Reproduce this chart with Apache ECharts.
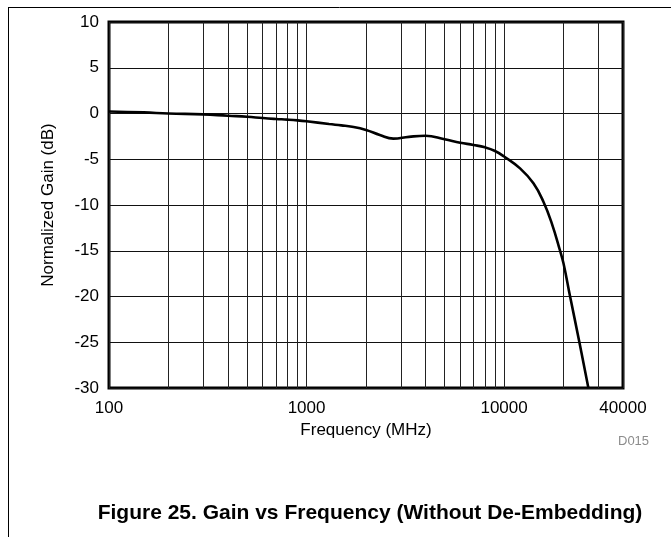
<!DOCTYPE html>
<html>
<head>
<meta charset="utf-8">
<script src="https://cdn.jsdelivr.net/npm/echarts@6/dist/echarts.min.js"></script>
<style>
html,body{margin:0;padding:0;background:#fff;}
#chart{width:671px;height:537px;}
</style>
</head>
<body>
<div id="chart"></div>
<script>
// Data
var freqMHz = [100, 150, 200, 300, 400, 500, 600, 700, 800, 900, 1000, 1300, 1500, 1700, 2000, 2350, 2750, 3300, 4000, 5000, 6000, 7000, 8000, 9000, 10000, 12050, 14080, 15820, 17440, 19210, 20000, 21590, 24060, 26720];
var gainDb = [0.22, 0.12, 0.0, -0.1, -0.25, -0.35, -0.5, -0.6, -0.67, -0.75, -0.85, -1.15, -1.3, -1.45, -1.8, -2.35, -2.75, -2.55, -2.43, -2.82, -3.19, -3.44, -3.7, -4.1, -4.7, -6.0, -7.63, -9.64, -12.0, -15.0, -16.4, -20.0, -25.0, -30];
var xLabelValues = [100, 1000, 10000, 40000];
var xGridValues = [100, 200, 300, 400, 500, 600, 700, 800, 900, 1000, 2000, 3000, 4000, 5000, 6000, 7000, 8000, 9000, 10000, 20000, 30000, 40000];
var yMin = -30, yMax = 10, yStep = 5;

var FONT = '"Liberation Sans", Arial, sans-serif';
var chart = echarts.init(document.getElementById('chart'), null, {renderer: 'canvas'});
var pts = freqMHz.map(function (f, i) { return [f, gainDb[i]]; });

chart.setOption({
  animation: false,
  backgroundColor: '#fff',
  grid: {left: 109, top: 22, right: 48, bottom: 149, show: true, borderColor: '#000', borderWidth: 3, backgroundColor: 'transparent'},
  xAxis: {
    type: 'log', logBase: 10, min: 100, max: 40000,
    name: 'Frequency (MHz)', nameLocation: 'middle', nameGap: 31,
    nameTextStyle: {fontFamily: FONT, fontSize: 17, color: '#000'},
    axisLine: {show: false},
    axisTick: {show: false, customValues: xGridValues},
    axisLabel: {customValues: xLabelValues, fontFamily: FONT, fontSize: 17, color: '#000', margin: 12,
      formatter: function (v) { return String(Math.round(v)); }},
    splitLine: {show: true, lineStyle: {color: '#222', width: 1}},
    minorTick: {show: false}, minorSplitLine: {show: false}
  },
  yAxis: {
    type: 'value', min: yMin, max: yMax, interval: yStep,
    name: 'Normalized Gain (dB)', nameLocation: 'middle', nameGap: 52, nameRotate: 90,
    nameTextStyle: {fontFamily: FONT, fontSize: 17, color: '#000'},
    axisLine: {show: false}, axisTick: {show: false},
    axisLabel: {fontFamily: FONT, fontSize: 17, color: '#000', margin: 10},
    splitLine: {show: true, lineStyle: {color: '#111', width: 1}}
  },
  series: [{
    type: 'line', data: pts, smooth: 0.45, symbol: 'none',
    lineStyle: {color: '#000', width: 2.6}, clip: true
  }],
  graphic: [
    {type: 'line', shape: {x1: 8, y1: 7.5, x2: 671, y2: 7.5}, style: {stroke: '#000', lineWidth: 1}},
    {type: 'line', shape: {x1: 8.5, y1: 7, x2: 8.5, y2: 537}, style: {stroke: '#000', lineWidth: 1}},
    {type: 'text', x: 618, y: 441, style: {text: 'D015', font: '13px ' + FONT, fill: '#8c8c8c', verticalAlign: 'middle'}},
    {type: 'text', x: 370, y: 513, style: {text: 'Figure 25. Gain vs Frequency (Without De-Embedding)', font: 'bold 21px ' + FONT, fill: '#000', align: 'center', verticalAlign: 'middle'}}
  ]
});
</script>
</body>
</html>
